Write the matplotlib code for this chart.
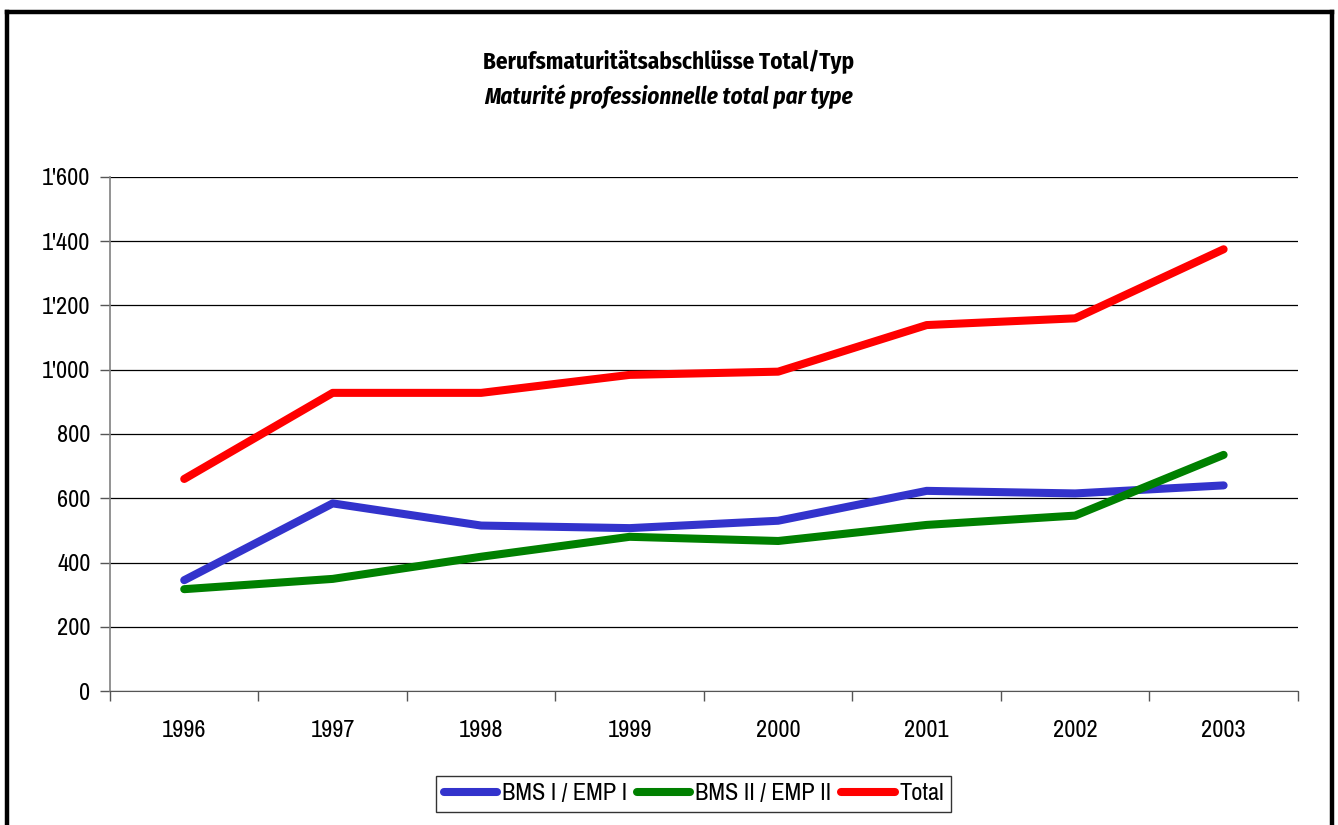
import numpy as np, matplotlib
matplotlib.use('Agg')
import matplotlib.pyplot as plt
from matplotlib.lines import Line2D
from matplotlib.ticker import FuncFormatter

plt.rcParams['font.family'] = ['Archivo Narrow', 'Liberation Sans', 'DejaVu Sans']
title_font = ['Fira Sans Condensed', 'Liberation Sans', 'DejaVu Sans']

years = ['1996', '1997', '1998', '1999', '2000', '2001', '2002', '2003']
bms1  = [345, 584, 515, 507, 530, 623, 615, 640]
bms2  = [317, 349, 418, 480, 467, 517, 546, 735]
total = [660, 928, 928, 984, 994, 1139, 1160, 1375]

fig = plt.figure(figsize=(13.38, 8.25), dpi=100)
ax = fig.add_axes([0.0822, 0.1624, 0.8878, 0.6231])

x = np.arange(len(years))
lw = 5.8
kw = dict(lw=lw, solid_capstyle='round', solid_joinstyle='round', zorder=3)
ax.plot(x, bms1, color='#3333CC', label='BMS I / EMP I', **kw)
ax.plot(x, bms2, color='#008000', label='BMS II / EMP II', **kw)
ax.plot(x, total, color='#FF0000', label='Total', **kw)

ax.set_xlim(-0.5, len(years) - 0.5)
ax.set_ylim(0, 1600)
ax.set_yticks(range(0, 1601, 200))
ax.yaxis.set_major_formatter(FuncFormatter(lambda v, p: f'{int(v):,}'.replace(',', "'")))
ax.grid(axis='y', color='black', lw=0.9, zorder=1)

# category labels centred, tick marks between categories
ax.set_xticks(np.arange(len(years) + 1) - 0.5)
ax.set_xticklabels([])
ax.set_xticks(x, minor=True)
ax.set_xticklabels(years, minor=True)
ax.tick_params(axis='x', which='minor', length=0, pad=21, labelsize=17.5)
ax.tick_params(axis='x', which='major', length=7, width=1, color='#555555')
ax.tick_params(axis='y', length=7, width=1, color='#555555', labelsize=17.5, pad=7)

for s in ['top', 'right']:
    ax.spines[s].set_visible(False)
ax.spines['left'].set_color('#808080')
ax.spines['bottom'].set_color('#555555')
ax.spines['left'].set_linewidth(1.2)

fig.text(0.5, 0.925, 'Berufsmaturitätsabschlüsse Total/Typ', ha='center', va='center',
         fontsize=16.6, fontweight='bold', family=title_font)
fig.text(0.5, 0.883, 'Maturité professionnelle total par type', ha='center', va='center',
         fontsize=16.6, fontweight='bold', style='italic', family=title_font)

leg = ax.legend(loc='center', bbox_to_anchor=(0.4916, -0.2), ncol=3, fontsize=17.5,
                frameon=True, fancybox=False, edgecolor='black', handlelength=2.2,
                handletextpad=0.2, columnspacing=0.4, borderpad=0.3, borderaxespad=0)
leg.get_frame().set_linewidth(1.0)

# outer chart border
for xs, ys in [([0.0055, 0.0055], [0.0, 0.986]), ([0.0055, 0.9955], [0.986, 0.986]),
               ([0.9955, 0.9955], [0.0, 0.986])]:
    fig.add_artist(Line2D(xs, ys, color='black', lw=3.2, transform=fig.transFigure))

fig.savefig('out.png', dpi=100)
